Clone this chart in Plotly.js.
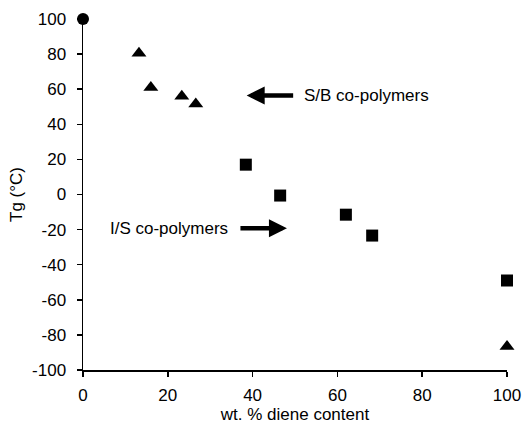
<!DOCTYPE html>
<html><head><meta charset="utf-8">
<script src="https://cdn.plot.ly/plotly-3.0.1.min.js"></script>
<style>html,body{margin:0;padding:0;background:#fff}#c{width:522px;height:424px}</style>
</head><body><div id="c"></div>
<script>
const homoX = [0];
const homoY = [100];
const sbX = [13.2, 16, 23.3, 26.6, 100];
const sbY = [80.5, 61, 56, 51.5, -86.6];
const isX = [38.4, 46.5, 62, 68.2, 100];
const isY = [17, -0.6, -11.5, -23.4, -49];
const xTicks = [0, 20, 40, 60, 80, 100];
const xTickText = ['0', '20', '40', '60', '80', '100'];
const yTicks = [-100, -80, -60, -40, -20, 0, 20, 40, 60, 80, 100];
const yTickText = ['-100', '-80', '-60', '-40', '-20', '0', '20', '40', '60', '80', '100'];

const F = 'Liberation Sans, Arial, sans-serif';
const traces = [
  {x: homoX, y: homoY, mode: 'markers', type: 'scatter', cliponaxis: false,
   marker: {symbol: 'circle', size: 12, color: '#000'}},
  {x: sbX, y: sbY, mode: 'markers', type: 'scatter', cliponaxis: false,
   marker: {symbol: 'triangle-up', size: 13, color: '#000'}},
  {x: isX, y: isY, mode: 'markers', type: 'scatter', cliponaxis: false,
   marker: {symbol: 'square', size: 12, color: '#000'}}
];
const layout = {
  width: 522, height: 424, showlegend: false,
  margin: {l: 83, r: 15, t: 19, b: 54},
  paper_bgcolor: '#fff', plot_bgcolor: '#fff',
  font: {family: F, size: 17, color: '#000'},
  xaxis: {range: [0, 100], tickmode: 'array', tickvals: xTicks, ticktext: xTickText,
    ticks: 'outside', ticklen: 5, tickwidth: 1.5,
    showline: true, linewidth: 1.5, linecolor: '#000', tickcolor: '#000', showgrid: false, zeroline: false,
    ticklabelstandoff: 4,
    tickfont: {size: 17, color: '#000'}, title: {text: 'wt. % diene content', font: {size: 17, color: '#000'}, standoff: 12}},
  yaxis: {range: [-100, 100], tickmode: 'array', tickvals: yTicks, ticktext: yTickText,
    ticks: 'outside', ticklen: 5, tickwidth: 1.5,
    showline: true, linewidth: 1.5, linecolor: '#000', tickcolor: '#000', showgrid: false, zeroline: false,
    ticklabelstandoff: 7,
    tickfont: {size: 17, color: '#000'}, title: {text: 'Tg (°C)', font: {size: 17, color: '#000'}, standoff: 5}},
  annotations: [
    {x: 38.6, y: 56.4, xref: 'x', yref: 'y', text: '', showarrow: true, ax: 48, ay: 0,
     arrowhead: 2, arrowsize: 0.8, arrowwidth: 4.5, arrowcolor: '#000'},
    {x: 48.1, y: -19.3, xref: 'x', yref: 'y', text: '', showarrow: true, ax: -48, ay: 0,
     arrowhead: 2, arrowsize: 0.8, arrowwidth: 4.5, arrowcolor: '#000'},
    {x: 51.6, y: 56.4, xref: 'x', yref: 'y', text: 'S/B co-polymers', showarrow: false,
     xanchor: 'left', yanchor: 'middle', font: {size: 17, color: '#000'}},
    {x: 34.6, y: -19.3, xref: 'x', yref: 'y', text: 'I/S co-polymers', showarrow: false,
     xanchor: 'right', yanchor: 'middle', font: {size: 17, color: '#000'}}
  ]
};
Plotly.newPlot('c', traces, layout, {displayModeBar: false, staticPlot: true});
</script></body></html>
